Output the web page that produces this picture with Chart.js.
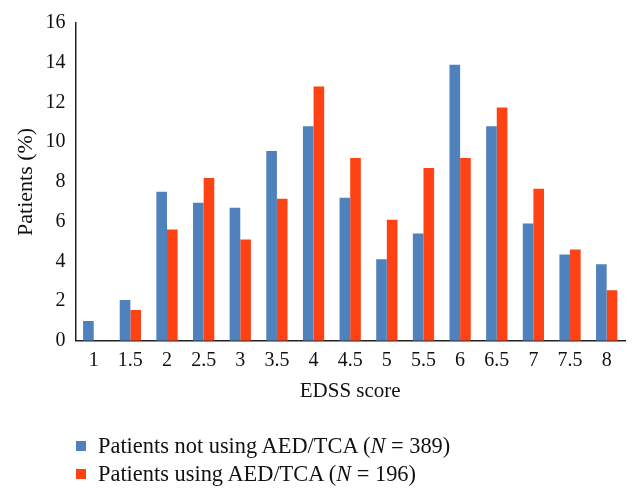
<!DOCTYPE html>
<html>
<head>
<meta charset="utf-8">
<script src="https://cdn.jsdelivr.net/npm/chart.js@4/dist/chart.umd.min.js"></script>
<style>
  html, body { margin: 0; padding: 0; background: #fff; }
  #wrap { position: relative; width: 640px; height: 499px; }
  #legend { position: absolute; left: 76px; top: 432px; font-family: 'Liberation Serif', serif; font-size: 22.4px; color: #111; }
  .row { display: flex; align-items: center; height: 28px; }
  .box { width: 10px; height: 10px; margin-right: 12px; }
</style>
</head>
<body>
<div id="wrap">
  <canvas id="chart" width="640" height="499"></canvas>
  <div id="legend">
    <div class="row"><span class="box" style="background:#4f81bd"></span><span>Patients not using AED/TCA (<i>N</i> = 389)</span></div>
    <div class="row"><span class="box" style="background:#fe4214"></span><span>Patients using AED/TCA (<i>N</i> = 196)</span></div>
  </div>
</div>
<script>
const categories = ['1', '1.5', '2', '2.5', '3', '3.5', '4', '4.5', '5', '5.5', '6', '6.5', '7', '7.5', '8'];
const notUsing = [1.0, 2.05, 7.5, 6.95, 6.7, 9.55, 10.8, 7.2, 4.1, 5.4, 13.9, 10.8, 5.9, 4.35, 3.85];
const using = [0, 1.55, 5.6, 8.2, 5.1, 7.15, 12.8, 9.2, 6.1, 8.7, 9.2, 11.75, 7.65, 4.6, 2.55];
const yTicks = [0, 2, 4, 6, 8, 10, 12, 14, 16];

const serif = 'Liberation Serif';

function createChart(id, labels, datasets) {
    const ctx = document.getElementById(id);

    const chart = new Chart(ctx, {
        type: 'bar',
        data: {
            labels: labels,
            datasets: datasets
        },
        options: {
            responsive: false,
            animation: false,
            layout: {
                padding: { top: 23, left: 13, right: 15, bottom: 95 }
            },
            scales: {
                x: {
                    grid: { display: false },
                    border: { display: true, color: '#222', width: 1.5 },
                    ticks: { color: '#111', padding: 0, font: { family: serif, size: 20 } },
                    title: {
                        display: true,
                        text: 'EDSS score',
                        color: '#111',
                        padding: { top: 6, bottom: 0 },
                        font: { family: serif, size: 21 }
                    }
                },
                y: {
                    min: 0,
                    max: yTicks[yTicks.length - 1],
                    afterBuildTicks: (axis) => { axis.ticks = yTicks.map(v => ({ value: v })); },
                    grid: { display: false },
                    border: { display: true, color: '#222', width: 1.5 },
                    ticks: { color: '#111', padding: 2, font: { family: serif, size: 20 } },
                    title: {
                        display: true,
                        text: 'Patients (%)',
                        color: '#111',
                        padding: { top: 0, bottom: 4 },
                        font: { family: serif, size: 22 }
                    }
                }
            },
            plugins: {
                legend: { display: false },
                tooltip: { enabled: false }
            }
        }
    });
    return chart;
}

createChart('chart', categories, [
    {
        label: 'Patients not using AED/TCA (N = 389)',
        data: notUsing,
        backgroundColor: '#4f81bd',
        categoryPercentage: 0.58,
        barPercentage: 1
    },
    {
        label: 'Patients using AED/TCA (N = 196)',
        data: using,
        backgroundColor: '#fe4214',
        categoryPercentage: 0.58,
        barPercentage: 1
    }
]);
</script>
</body>
</html>
